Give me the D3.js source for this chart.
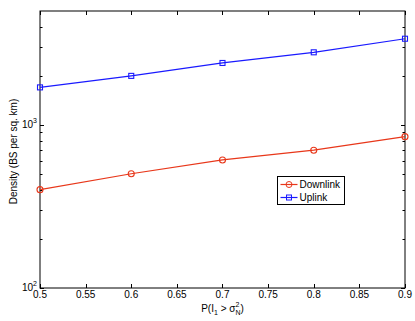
<!DOCTYPE html>
<html lang="en">
<head>
<meta charset="UTF-8">
<script src="https://d3js.org/d3.v7.min.js"></script>
<style>
  body { margin: 0; background: #fff; }
  svg text { font-family: "Liberation Sans", Arial, sans-serif; }
</style>
</head>
<body>
<svg id="chart" width="415" height="321"></svg>
<script>
// data
const probs = [0.5, 0.6, 0.7, 0.8, 0.9];
const downlink = [401, 502, 610, 700, 848];
const uplink = [1700, 2000, 2400, 2790, 3380];
const xTicks = [0.5, 0.55, 0.6, 0.65, 0.7, 0.75, 0.8, 0.85, 0.9];
const yMajor = [100, 1000];

const svg = d3.select("#chart");
const margin = { left: 40, top: 11, right: 10, bottom: 33 };
const W = 415, H = 321;

const x = d3.scaleLinear().domain([0.5, 0.9]).range([margin.left, W - margin.right]);
const y = d3.scaleLog().domain([100, 5000]).range([H - margin.bottom, margin.top]);

const yMinor = [];
for (let d = 100; d < 5000; d *= 10)
  for (let k = 2; k <= 9; k++) if (d * k < 5000) yMinor.push(d * k);

const g = svg.append("g");
const x0 = x.range()[0], x1 = x.range()[1], y0 = y.range()[0], y1 = y.range()[1];

// ticks, all four sides, pointing inward
const tick = g.append("g").attr("stroke", "#000").attr("stroke-width", 1);
xTicks.forEach(v => {
  const px = Math.round(x(v)) + 0.5;
  tick.append("line").attr("x1", px).attr("x2", px).attr("y1", y0).attr("y2", y0 - 4);
  tick.append("line").attr("x1", px).attr("x2", px).attr("y1", y1).attr("y2", y1 + 4);
});
yMajor.concat(yMinor).forEach(v => {
  const py = Math.round(y(v)) + 0.5;
  const len = yMajor.includes(v) ? 4 : 2.5;
  tick.append("line").attr("x1", x0).attr("x2", x0 + len).attr("y1", py).attr("y2", py);
  tick.append("line").attr("x1", x1).attr("x2", x1 - len).attr("y1", py).attr("y2", py);
});

// frame
g.append("rect").attr("x", x0).attr("y", y1).attr("width", x1 - x0).attr("height", y0 - y1)
  .attr("fill", "none").attr("stroke", "#000").attr("stroke-width", 1);

// x tick labels
g.selectAll(".xl").data(xTicks).enter().append("text")
  .attr("x", d => x(d)).attr("y", y0 + 10)
  .attr("text-anchor", "middle").attr("font-size", 10)
  .text(d => d3.format("")(d));

// y tick labels with superscript exponent
yMajor.forEach(v => {
  const t = g.append("text").attr("x", x0 - 3).attr("y", y(v) + 3)
    .attr("text-anchor", "end").attr("font-size", 10);
  t.append("tspan").text("10");
  t.append("tspan").attr("font-size", 7).attr("dy", -5).text(Math.log10(v));
});

// axis labels
const xl = g.append("text").attr("x", (x0 + x1) / 2).attr("y", 312)
  .attr("text-anchor", "middle").attr("font-size", 10);
xl.append("tspan").text("P(I");
xl.append("tspan").attr("font-size", 7).attr("dy", 3).text("1");
xl.append("tspan").attr("dy", -3).text(" > σ");
xl.append("tspan").attr("font-size", 7).attr("dy", -5).text("2");
xl.append("tspan").attr("font-size", 7).attr("dx", -4).attr("dy", 8).text("N");
xl.append("tspan").attr("dy", -3).text(")");

g.append("text").attr("transform", `translate(17,${(y0 + y1) / 2 + 2}) rotate(-90)`)
  .attr("text-anchor", "middle").attr("font-size", 10)
  .text("Density (BS per sq. km)");

// series
const red = "#e8371a", blue = "#1a1aff";
const line = d3.line().x((d, i) => x(probs[i])).y(d => y(d));

g.append("path").datum(downlink).attr("d", line).attr("fill", "none").attr("stroke", red).attr("stroke-width", 1.2);
g.selectAll(".dm").data(downlink).enter().append("circle")
  .attr("cx", (d, i) => x(probs[i])).attr("cy", d => y(d)).attr("r", 3)
  .attr("fill", "none").attr("stroke", red).attr("stroke-width", 1.1);

g.append("path").datum(uplink).attr("d", line).attr("fill", "none").attr("stroke", blue).attr("stroke-width", 1.2);
g.selectAll(".um").data(uplink).enter().append("rect")
  .attr("x", (d, i) => x(probs[i]) - 2.5).attr("y", d => y(d) - 2.5).attr("width", 5).attr("height", 5)
  .attr("fill", "none").attr("stroke", blue).attr("stroke-width", 1.1);

// legend
const lg = g.append("g").attr("transform", "translate(277.5,176.5)");
lg.append("rect").attr("width", 67).attr("height", 28).attr("fill", "#fff").attr("stroke", "#000");
[["Downlink", red, "o"], ["Uplink", blue, "s"]].forEach((e, i) => {
  const cy = 8 + i * 13;
  lg.append("line").attr("x1", 3).attr("x2", 20).attr("y1", cy).attr("y2", cy).attr("stroke", e[1]).attr("stroke-width", 1.2);
  if (e[2] === "o")
    lg.append("circle").attr("cx", 11.5).attr("cy", cy).attr("r", 3).attr("fill", "none").attr("stroke", e[1]);
  else
    lg.append("rect").attr("x", 9).attr("y", cy - 2.5).attr("width", 5).attr("height", 5).attr("fill", "none").attr("stroke", e[1]);
  lg.append("text").attr("x", 22).attr("y", cy + 3.5).attr("font-size", 10).text(e[0]);
});
</script>
</body>
</html>
